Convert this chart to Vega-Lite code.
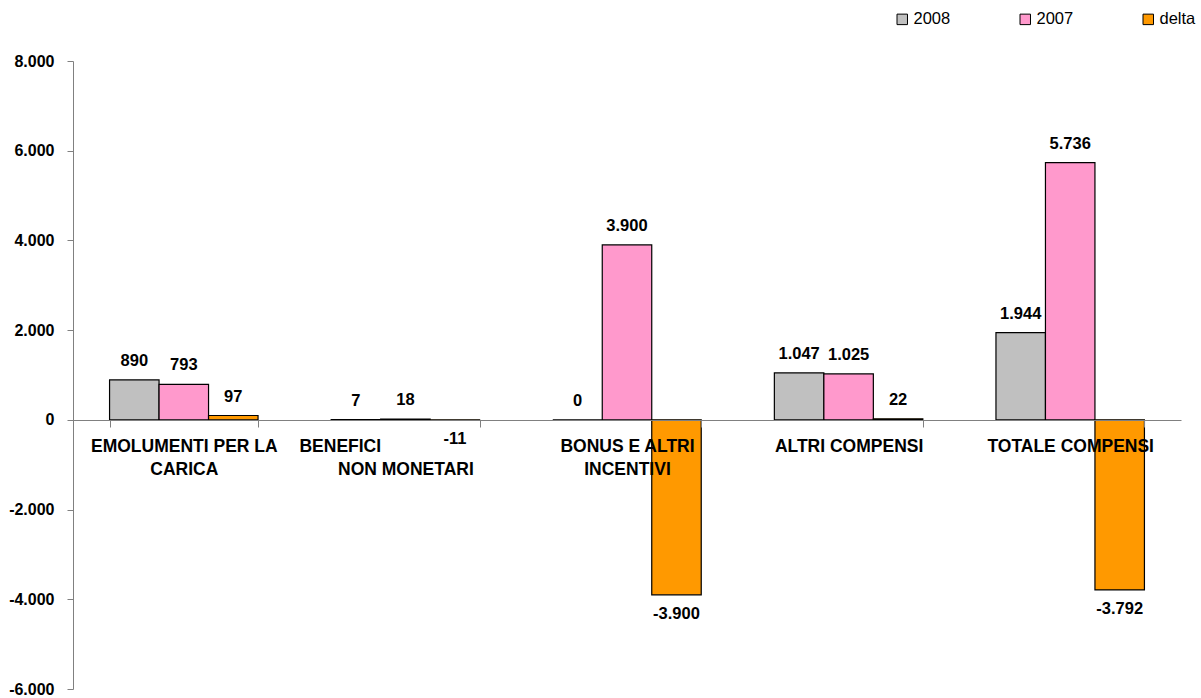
{
  "$schema": "https://vega.github.io/schema/vega-lite/v6.json",
  "autosize": "none",
  "width": 1108,
  "height": 628,
  "padding": {"left": 73, "top": 61, "right": 20, "bottom": 9},
  "background": "white",
  "config": {
    "locale": {"number": {"decimal": ",", "thousands": ".", "grouping": [3], "currency": ["€", ""], "minus": "-"}},
    "view": {"stroke": null},
    "font": "Liberation Sans"
  },
  "data": {
    "values": [
      {"categoria": "EMOLUMENTI PER LA CARICA", "serie": "2008", "valore": 890},
      {"categoria": "EMOLUMENTI PER LA CARICA", "serie": "2007", "valore": 793},
      {"categoria": "EMOLUMENTI PER LA CARICA", "serie": "delta", "valore": 97},
      {"categoria": "BENEFICI NON MONETARI", "serie": "2008", "valore": 7},
      {"categoria": "BENEFICI NON MONETARI", "serie": "2007", "valore": 18},
      {"categoria": "BENEFICI NON MONETARI", "serie": "delta", "valore": -11},
      {"categoria": "BONUS E ALTRI INCENTIVI", "serie": "2008", "valore": 0},
      {"categoria": "BONUS E ALTRI INCENTIVI", "serie": "2007", "valore": 3900},
      {"categoria": "BONUS E ALTRI INCENTIVI", "serie": "delta", "valore": -3900},
      {"categoria": "ALTRI COMPENSI", "serie": "2008", "valore": 1047},
      {"categoria": "ALTRI COMPENSI", "serie": "2007", "valore": 1025},
      {"categoria": "ALTRI COMPENSI", "serie": "delta", "valore": 22},
      {"categoria": "TOTALE COMPENSI", "serie": "2008", "valore": 1944},
      {"categoria": "TOTALE COMPENSI", "serie": "2007", "valore": 5736},
      {"categoria": "TOTALE COMPENSI", "serie": "delta", "valore": -3792}
    ]
  },
  "encoding": {
    "x": {
      "field": "categoria",
      "type": "nominal",
      "sort": null,
      "scale": {"paddingInner": 0.33, "paddingOuter": 0.165},
      "axis": {
        "title": null,
        "orient": "bottom",
        "offset": -269,
        "zindex": 1,
        "labelAngle": 0,
        "labelLimit": 0,
        "labelFont": "Liberation Sans",
        "labelFontWeight": "bold",
        "labelFontSize": 17.5,
        "labelColor": "black",
        "labelLineHeight": 23,
        "labelPadding": 10,
        "labelBaseline": "top",
        "tickBand": "extent",
        "tickSize": 7,
        "tickColor": "#808080",
        "domainColor": "#808080",
        "labelExpr": "datum.value == 'EMOLUMENTI PER LA CARICA' ? ['EMOLUMENTI PER LA', 'CARICA'] : datum.value == 'BENEFICI NON MONETARI' ? ['BENEFICI\u00a0\u00a0\u00a0\u00a0\u00a0\u00a0\u00a0\u00a0\u00a0\u00a0\u00a0\u00a0\u00a0\u00a0\u00a0\u00a0\u00a0\u00a0\u00a0\u00a0\u00a0\u00a0\u00a0\u00a0\u00a0\u00a0\u00a0\u200b', 'NON MONETARI'] : datum.value == 'BONUS E ALTRI INCENTIVI' ? ['BONUS E ALTRI', 'INCENTIVI'] : datum.value"
      }
    },
    "xOffset": {
      "field": "serie",
      "type": "nominal",
      "sort": ["2008", "2007", "delta"],
      "scale": {"paddingInner": 0, "paddingOuter": 0}
    },
    "y": {
      "field": "valore",
      "type": "quantitative",
      "scale": {"domain": [-6000, 8000], "nice": false, "zero": false},
      "axis": {
        "title": null,
        "values": [-6000, -4000, -2000, 0, 2000, 4000, 6000, 8000],
        "format": ",d",
        "grid": false,
        "labelFont": "Liberation Sans",
        "labelFontWeight": "bold",
        "labelFontSize": 16,
        "labelColor": "black",
        "labelPadding": 13,
        "tickSize": 6,
        "tickColor": "#808080",
        "domainColor": "#808080"
      }
    }
  },
  "layer": [
    {
      "mark": {"type": "bar", "stroke": "black", "strokeWidth": 1.2},
      "encoding": {
        "color": {
          "field": "serie",
          "type": "nominal",
          "sort": ["2008", "2007", "delta"],
          "scale": {"domain": ["2008", "2007", "delta"], "range": ["#C0C0C0", "#FF99CC", "#FF9900"]},
          "legend": {
            "title": null,
            "orient": "none",
            "direction": "horizontal",
            "legendX": 821,
            "legendY": -50,
            "symbolType": "square",
            "symbolSize": 110,
            "symbolStrokeColor": "black",
            "symbolStrokeWidth": 1,
            "symbolOpacity": 1,
            "labelFont": "Liberation Sans",
            "labelFontSize": 16.5,
            "labelColor": "black",
            "labelOffset": 3,
            "columnPadding": 66
          }
        }
      }
    },
    {
      "transform": [{"filter": "datum.valore >= 0"}],
      "mark": {"type": "text", "dy": -19, "baseline": "middle", "font": "Liberation Sans", "fontWeight": "bold", "fontSize": 16.5, "color": "black"},
      "encoding": {"text": {"field": "valore", "type": "quantitative", "format": ",d"}}
    },
    {
      "transform": [{"filter": "datum.valore < 0"}],
      "mark": {"type": "text", "dy": 19, "baseline": "middle", "font": "Liberation Sans", "fontWeight": "bold", "fontSize": 16.5, "color": "black"},
      "encoding": {"text": {"field": "valore", "type": "quantitative", "format": ",d"}}
    }
  ]
}
